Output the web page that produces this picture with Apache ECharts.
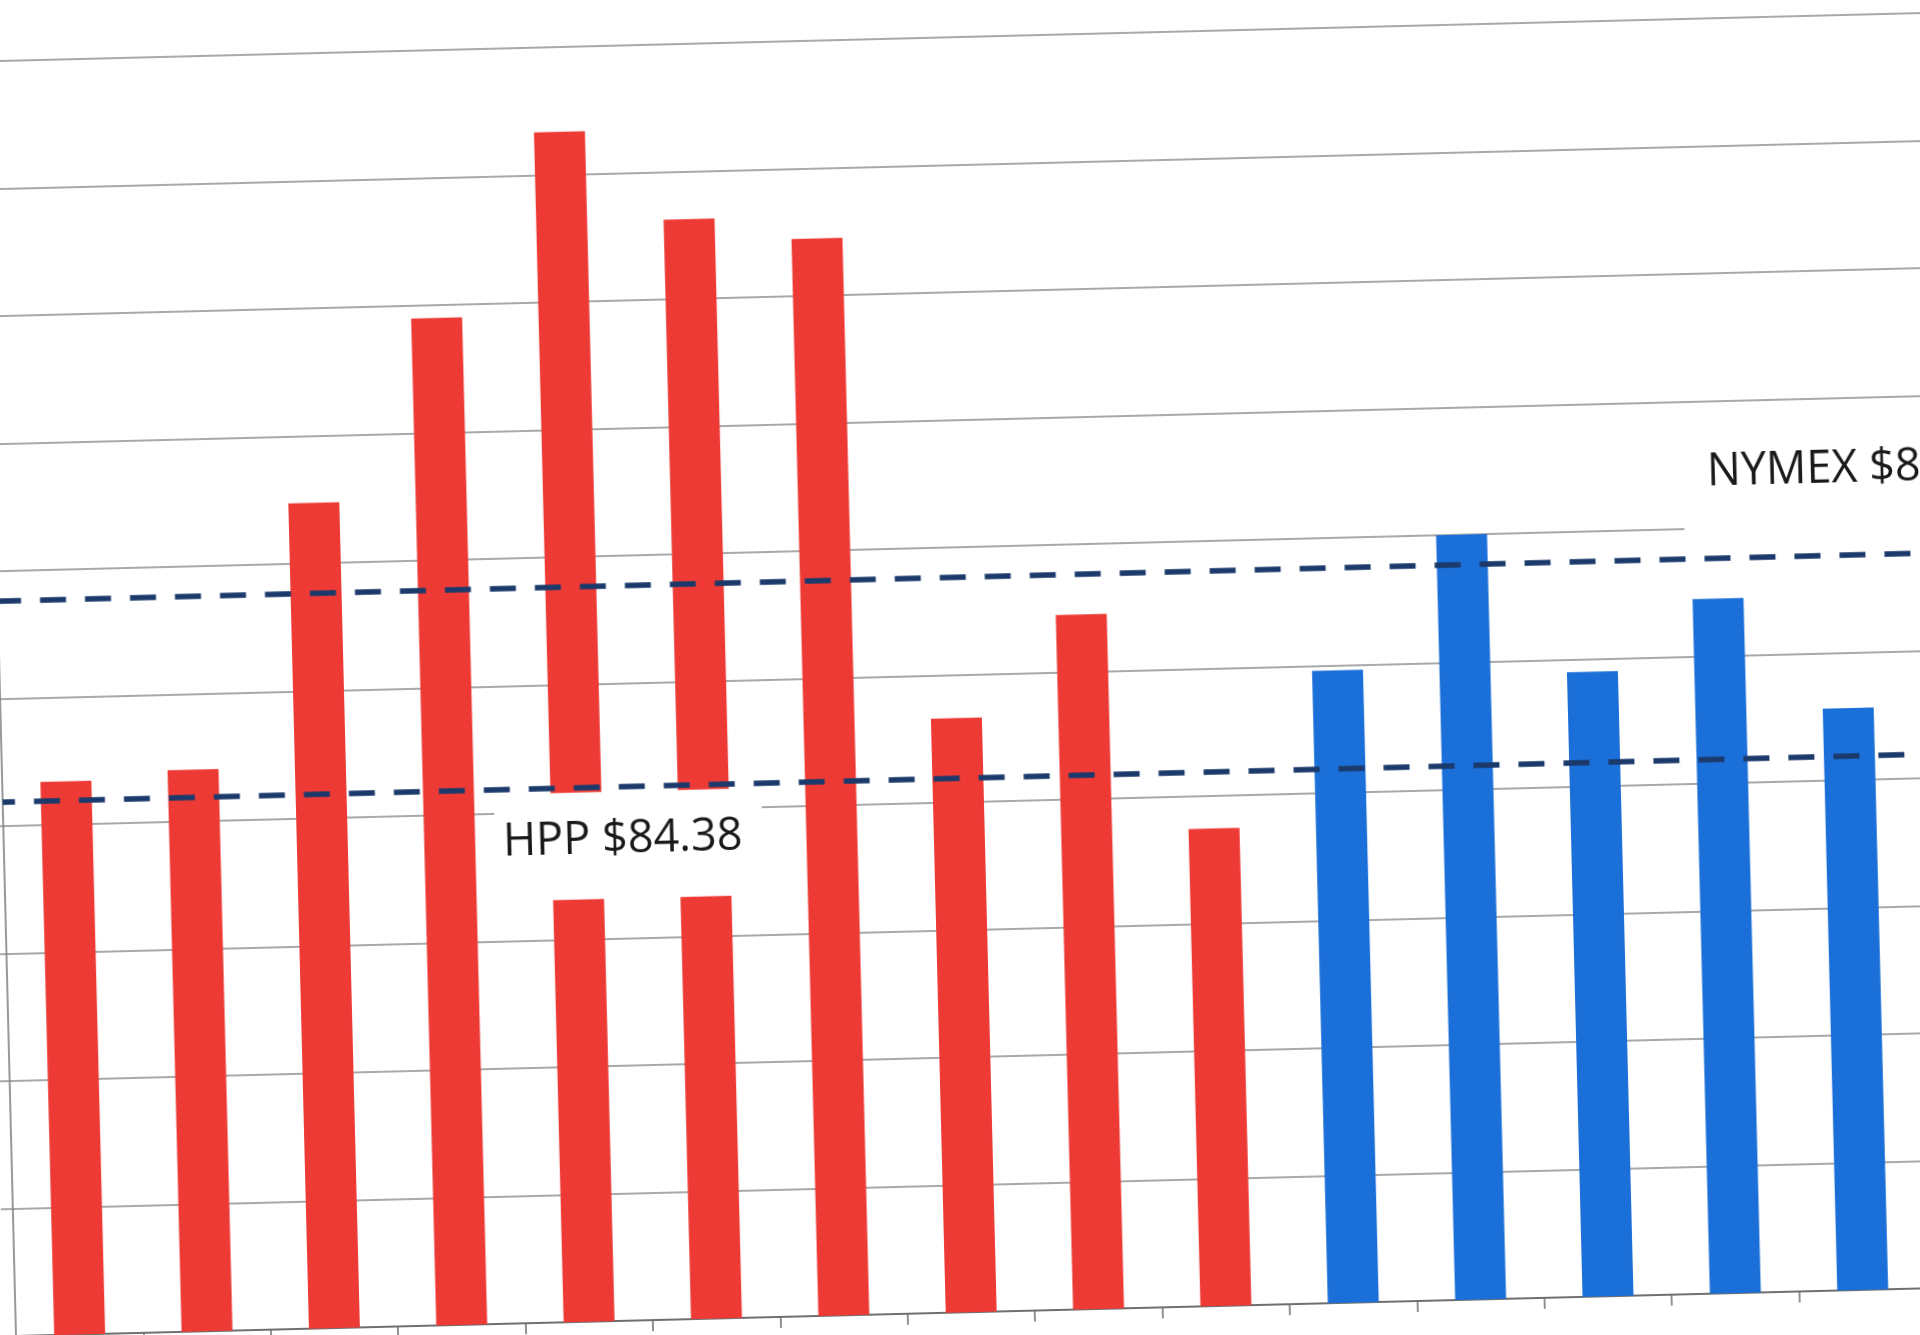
<!DOCTYPE html>
<html>
<head>
<meta charset="utf-8">
<script src="https://cdn.jsdelivr.net/npm/echarts@6/dist/echarts.min.js"></script>
<style>
  html, body { margin: 0; padding: 0; width: 1920px; height: 1335px; overflow: hidden; background: #ffffff; }
  /* the sheet sits slightly skewed on the page, tilted about the plot's lower-left corner */
  #chart {
    position: absolute; left: 0; top: -300px;
    width: 2200px; height: 1700px;
    transform-origin: 16px 1636px;
    transform: rotate(-1.43deg);
  }
</style>
</head>
<body>
<div id="chart"></div>
<script>
// Category slots along the bottom axis
const categories = ['1', '2', '3', '4', '5', '6', '7', '8', '9', '10', '11', '12', '13', '14', '15', '16'];

// Red bars (first ten slots)
const pastPrices = [84.68, 84.81, 88.95, 91.80, 94.67, 93.25, 92.90, 85.32, 86.90, 83.49];

// Blue bars (following slots)
const bidPrices = [85.92, 88.00, 85.80, 86.90, 85.13];

// Reference price lines
const hppPrice = 84.38;
const nymexPrice = 87.54;
const hppText = 'HPP $84.38';
const nymexText = 'NYMEX $87.54';

// Value axis range
const yMin = 76;
const yMax = 100;
const yStep = 2;

const RED = '#ee3a35';
const BLUE = '#1b6fd8';
const NAVY = '#1b3a6b';

const n = categories.length;
const redData = categories.map((_, i) => (i < pastPrices.length ? pastPrices[i] : null));
const blueData = categories.map((_, i) => {
  const j = i - pastPrices.length;
  return j >= 0 && j < bidPrices.length ? bidPrices[j] : null;
});

const labelFont = {
  color: '#1a1a1a',
  fontFamily: '"Open Sans", "Noto Sans", sans-serif',
  fontSize: 45,
  lineHeight: 50,
  backgroundColor: '#ffffff'
};

// invisible carrier segment for a text note
const hiddenStroke = { color: 'rgba(255,255,255,0)', width: 1, type: 'solid' };

const chart = echarts.init(document.getElementById('chart'), null, { renderer: 'canvas' });

chart.setOption({
  animation: false,
  backgroundColor: '#ffffff',
  grid: { left: 16, top: 106, width: 2038.4, height: 1530, containLabel: false },
  xAxis: [
    {
      type: 'category',
      data: categories,
      boundaryGap: true,
      axisLine: { show: true, lineStyle: { color: '#6f6f6f', width: 2 } },
      axisTick: { show: true, length: 11, lineStyle: { color: '#6f6f6f', width: 1.5 } },
      axisLabel: { show: false },
      splitLine: { show: false }
    },
    {
      // plain numeric track over the same slots, used to place the price notes
      type: 'value',
      min: 0,
      max: n,
      show: false
    }
  ],
  yAxis: {
    type: 'value',
    min: yMin,
    max: yMax,
    interval: yStep,
    axisLine: { show: true, lineStyle: { color: '#767676', width: 1.5 } },
    axisTick: { show: true, length: 12, lineStyle: { color: '#8c8c8c', width: 1.5 } },
    axisLabel: { show: false },
    splitLine: { show: true, lineStyle: { color: '#8c8c8c', width: 1.5 } }
  },
  series: [
    {
      type: 'bar',
      name: 'past',
      data: redData,
      barWidth: '40%',
      barGap: '-100%',
      itemStyle: { color: RED },
      z: 2
    },
    {
      type: 'bar',
      name: 'bids',
      data: blueData,
      barWidth: '40%',
      barGap: '-100%',
      itemStyle: { color: BLUE },
      z: 2
    },
    {
      type: 'line',
      name: 'prices',
      xAxisIndex: 1,
      yAxisIndex: 0,
      data: [],
      z: 10,
      markLine: {
        silent: true,
        symbol: ['none', 'none'],
        animation: false,
        data: [
          {
            yAxis: hppPrice,
            lineStyle: { color: NAVY, width: 5.5, type: [26, 19], dashOffset: 13.7 },
            label: { show: false }
          },
          {
            yAxis: nymexPrice,
            lineStyle: { color: NAVY, width: 5.5, type: [26, 19], dashOffset: 2.6 },
            label: { show: false }
          },
          [
            {
              coord: [3.86, hppPrice],
              lineStyle: hiddenStroke,
              label: Object.assign({
                show: true,
                position: 'insideMiddleBottom',
                distance: [0, 5],
                padding: [23, 20, 34, 8],
                formatter: hppText
              }, labelFont)
            },
            { coord: [5.95, hppPrice] }
          ],
          [
            {
              coord: [13.25, nymexPrice],
              lineStyle: hiddenStroke,
              label: Object.assign({
                show: true,
                position: 'insideStartTop',
                distance: [0, 15],
                padding: [23, 40, 45, 24],
                formatter: nymexText
              }, labelFont)
            },
            { coord: [n, nymexPrice] }
          ]
        ]
      }
    }
  ]
});
</script>
</body>
</html>
